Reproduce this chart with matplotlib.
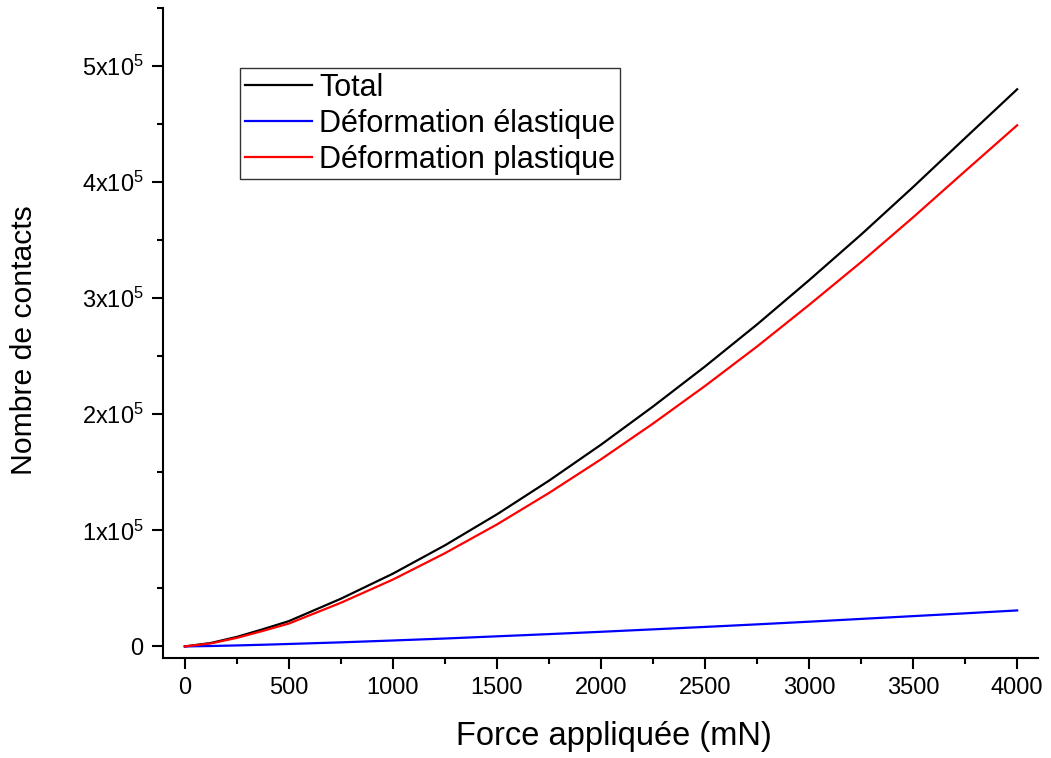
import matplotlib
matplotlib.use("Agg")
import matplotlib.pyplot as plt
from matplotlib.ticker import MultipleLocator, FuncFormatter

plt.rcParams['font.family'] = ['Liberation Sans', 'DejaVu Sans']
plt.rcParams['mathtext.fontset'] = 'custom'
plt.rcParams['mathtext.rm'] = 'Liberation Sans'

# force appliquee (mN)
force = [0, 125, 250, 375, 500, 750, 1000, 1250, 1500, 1750, 2000,
         2250, 2500, 2750, 3000, 3250, 3500, 3750, 4000]
# nombre de contacts
total = [0, 2950, 8200, 14800, 21800, 41100, 62700, 87100, 113800, 142800, 173800,
         206700, 241200, 277400, 315500, 354800, 395800, 438000, 480000]
elastique = [0, 340, 850, 1430, 2100, 3500, 5100, 6800, 8700, 10600, 12600,
             14700, 16800, 19000, 21300, 23700, 26100, 28500, 31000]
plastique = [0, 2610, 7350, 13370, 19700, 37600, 57600, 80300, 105100, 132200, 161200,
             192000, 224400, 258400, 294200, 331100, 369700, 409500, 449000]

labels = ['Total', 'Déformation élastique', 'Déformation plastique']


def sci_fmt(v, pos):
    if abs(v) < 1:
        return '0'
    return r'$\mathregular{%dx10^{5}}$' % round(v / 1e5)


fig = plt.figure(figsize=(10.51, 7.58), dpi=100)
ax = fig.add_axes([0.1551, 0.1319, 0.8325, 0.8575])

ax.plot(force, total, color='black', linewidth=1.6, label=labels[0])
ax.plot(force, elastique, color='#0000ff', linewidth=1.6, label=labels[1])
ax.plot(force, plastique, color='#ff0000', linewidth=1.6, label=labels[2])

ax.set_xlim(-105, 4100)
ax.set_ylim(-10000, 550000)

ax.spines['top'].set_visible(False)
ax.spines['right'].set_visible(False)
for s in ('left', 'bottom'):
    ax.spines[s].set_linewidth(1.5)

ax.xaxis.set_major_locator(MultipleLocator(500))
ax.xaxis.set_minor_locator(MultipleLocator(250))
ax.yaxis.set_major_locator(MultipleLocator(100000))
ax.yaxis.set_minor_locator(MultipleLocator(50000))
ax.yaxis.set_major_formatter(FuncFormatter(sci_fmt))

ax.tick_params(which='major', direction='out', length=8, width=1.5, labelsize=17, pad=6)
ax.tick_params(which='minor', direction='out', length=4.5, width=1.5)

ax.set_xlabel('Force appliquée (mN)', fontsize=23.5)
ax.set_ylabel('Nombre de contacts', fontsize=21.7)
ax.xaxis.set_label_coords(0.515, -0.097)
ax.yaxis.set_label_coords(-0.143, 0.489)

leg = ax.legend(loc='upper left', bbox_to_anchor=(240 / 1051, 1 - 68 / 758),
                bbox_transform=fig.transFigure, fontsize=22, frameon=True,
                fancybox=False, edgecolor='#333333', framealpha=1,
                handlelength=2.2, handletextpad=0.25, labelspacing=0.2,
                borderpad=0.15, borderaxespad=0)
leg.get_frame().set_linewidth(1.0)

fig.savefig('out.png', dpi=100)
